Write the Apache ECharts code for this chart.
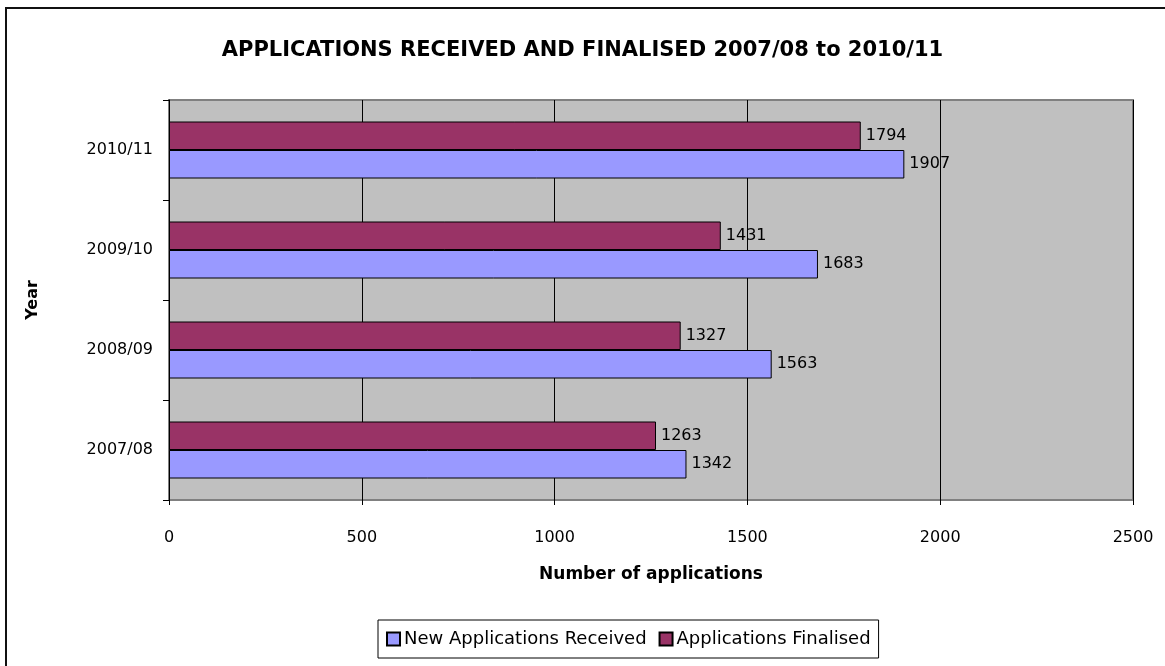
<!DOCTYPE html>
<html>
<head>
<meta charset="utf-8">
<script src="https://cdn.jsdelivr.net/npm/echarts@6/dist/echarts.min.js"></script>
<style>
  html, body { margin: 0; padding: 0; background: #fff; }
  #chart { width: 1165px; height: 666px; }
</style>
</head>
<body>
<div id="chart"></div>
<script>
// data
var years = ['2007/08', '2008/09', '2009/10', '2010/11'];
var received = [1342, 1563, 1683, 1907];
var finalised = [1263, 1327, 1431, 1794];
var xTicks = [0, 500, 1000, 1500, 2000, 2500];

var font = 'DejaVu Sans';

var myChart = echarts.init(document.getElementById('chart'));

var option = {
    backgroundColor: '#fff',
    animation: false,
    textStyle: { fontFamily: font, color: '#000' },
    title: {
        text: 'APPLICATIONS RECEIVED AND FINALISED 2007/08 to 2010/11',
        left: 'center',
        top: 35,
        textStyle: { fontFamily: font, fontSize: 21, fontWeight: 'bold', color: '#000' }
    },
    legend: {
        data: ['New Applications Received', 'Applications Finalised'],
        left: 378,
        top: 620,
        padding: [10, 8, 10, 8],
        itemGap: 12,
        itemWidth: 13,
        itemHeight: 13,
        borderColor: '#000',
        borderWidth: 1,
        icon: 'rect',
        textStyle: { fontFamily: font, fontSize: 18, color: '#000', padding: [0, 0, 0, -1] }
    },
    grid: {
        left: 169,
        right: 32,
        top: 100,
        bottom: 166,
        show: true,
        backgroundColor: '#C0C0C0',
        borderColor: '#808080',
        borderWidth: 2
    },
    xAxis: {
        type: 'value',
        min: xTicks[0],
        max: xTicks[xTicks.length - 1],
        interval: 500,
        name: 'Number of applications',
        nameLocation: 'middle',
        nameGap: 66,
        nameTextStyle: { fontFamily: font, fontSize: 17, fontWeight: 'bold', color: '#000' },
        axisLine: { show: false },
        axisTick: { show: true, length: 5, lineStyle: { color: '#000' } },
        axisLabel: {
            margin: 30, fontSize: 16, color: '#000', fontFamily: font,
            formatter: function (v) { return String(v); }
        },
        splitLine: { show: true, lineStyle: { color: '#000', width: 1 } }
    },
    yAxis: {
        type: 'category',
        data: years,
        name: 'Year',
        nameLocation: 'middle',
        nameGap: 128,
        nameRotate: 90,
        nameTextStyle: { fontFamily: font, fontSize: 16, fontWeight: 'bold', color: '#000' },
        axisLine: { show: true, lineStyle: { color: '#000', width: 1 } },
        axisTick: { show: true, length: 6, lineStyle: { color: '#000' } },
        axisLabel: { margin: 16, fontSize: 16, color: '#000', fontFamily: font },
        splitLine: { show: false }
    },
    graphic: [{
        type: 'rect',
        shape: { x: 6, y: 8, width: 1200, height: 700 },
        style: { fill: null, stroke: '#111', lineWidth: 2 },
        silent: true
    }],
    series: [{
        name: 'Applications Finalised',
        type: 'bar',
        data: finalised,
        barGap: '0%',
        barCategoryGap: '43%',
        itemStyle: { color: '#993366', borderColor: '#000', borderWidth: 1 },
        label: { show: true, position: 'right', distance: 5, fontSize: 16, color: '#000', fontFamily: font }
    }, {
        name: 'New Applications Received',
        type: 'bar',
        data: received,
        barGap: '0%',
        barCategoryGap: '43%',
        itemStyle: { color: '#9999FF', borderColor: '#000', borderWidth: 1 },
        label: { show: true, position: 'right', distance: 5, fontSize: 16, color: '#000', fontFamily: font }
    }]
};

myChart.setOption(option);
</script>
</body>
</html>
